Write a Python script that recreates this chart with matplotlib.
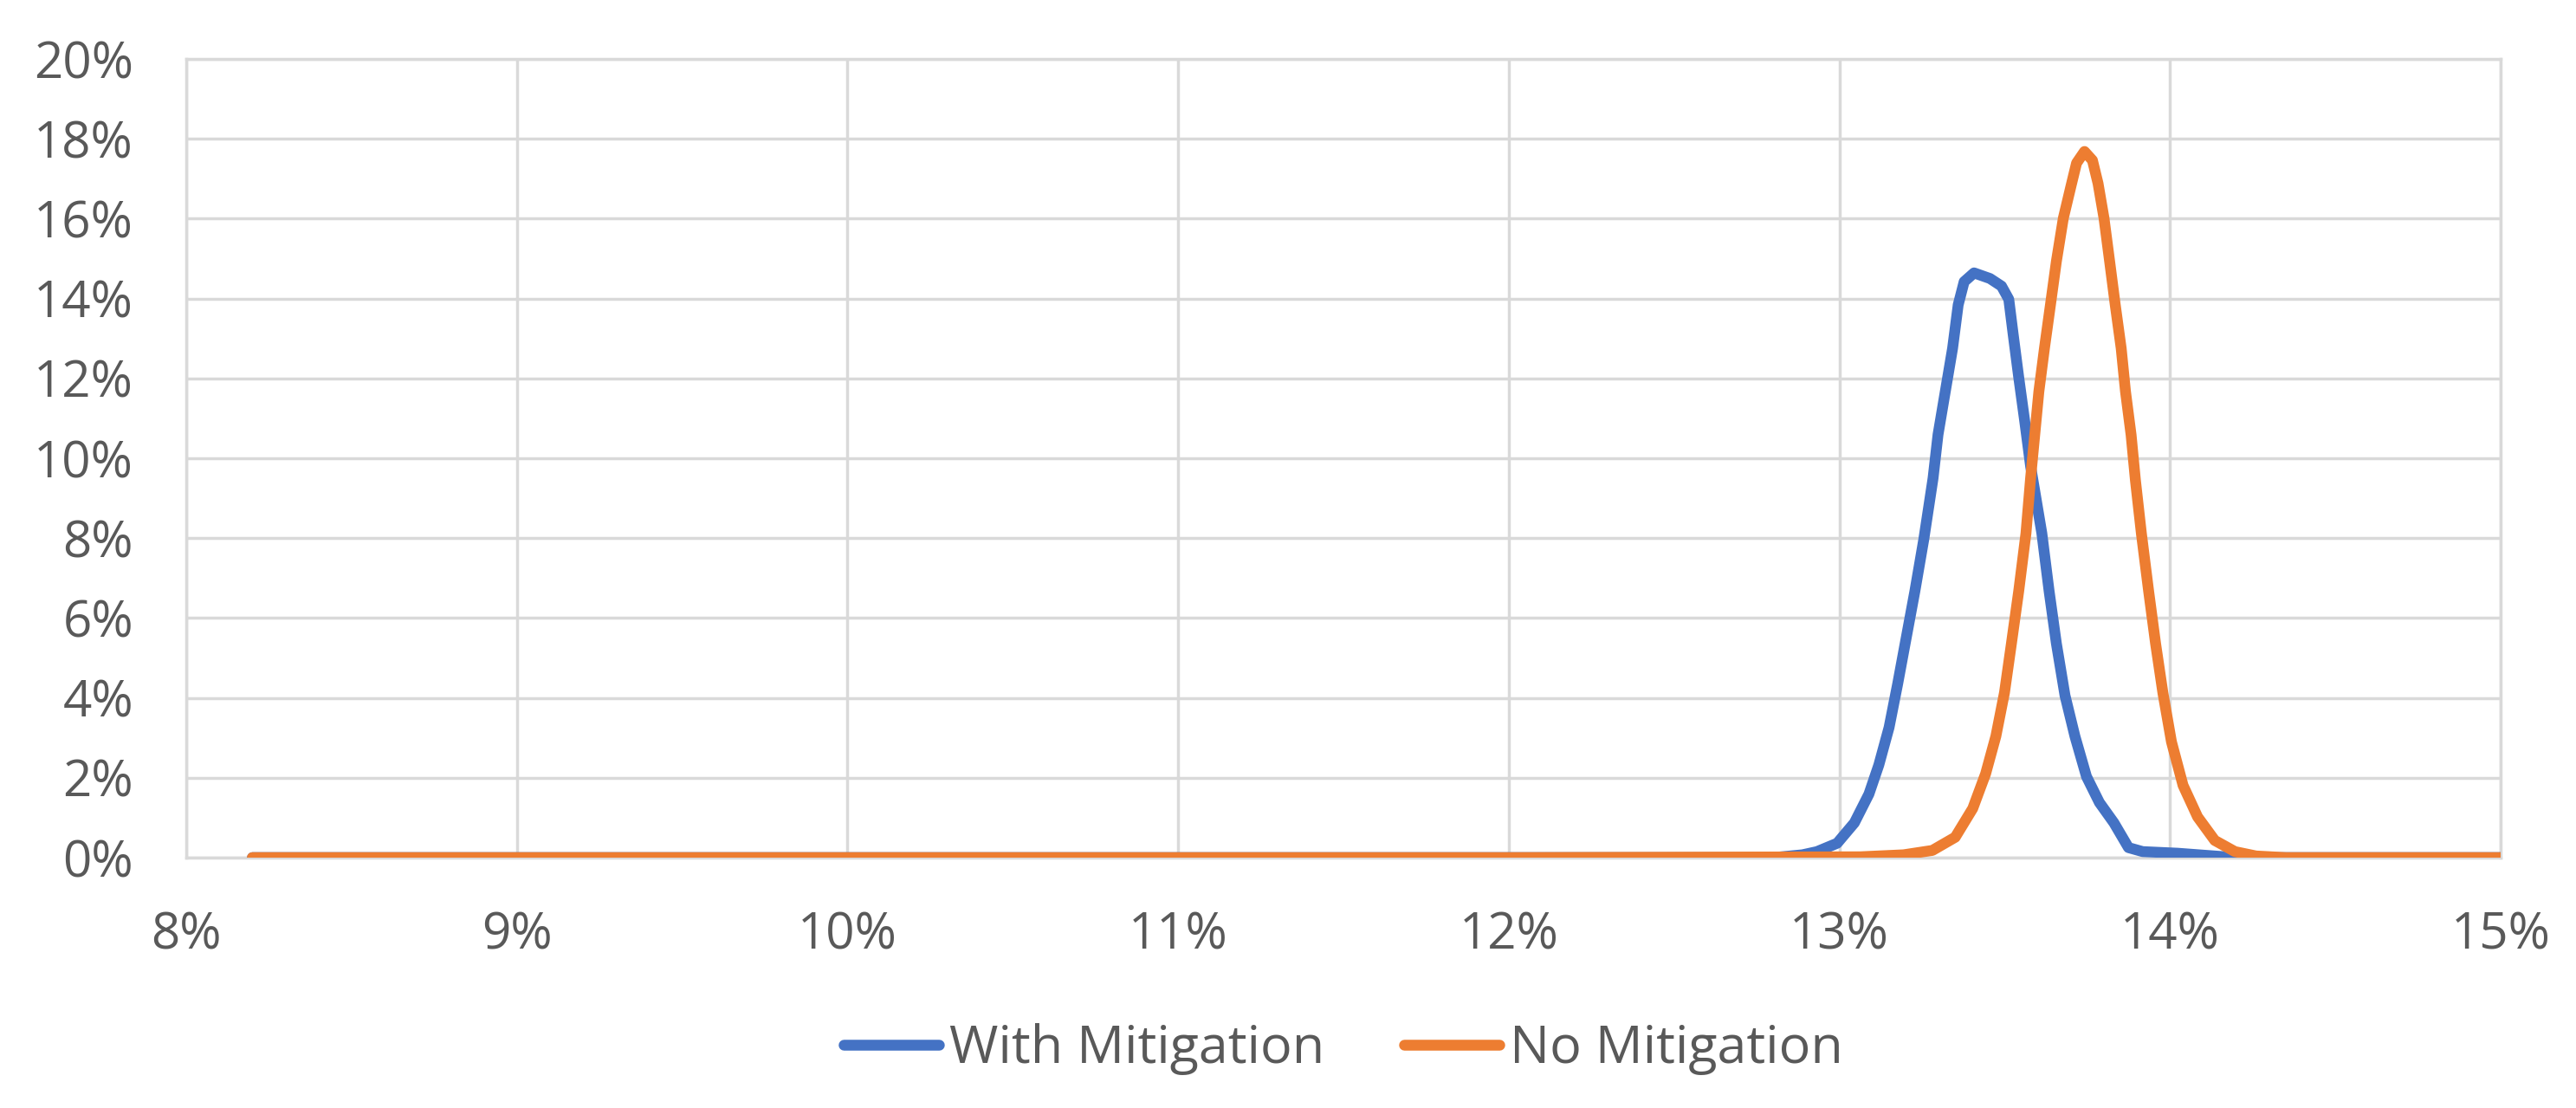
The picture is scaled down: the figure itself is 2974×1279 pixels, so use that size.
import matplotlib
matplotlib.use('Agg')
import matplotlib.pyplot as plt
from matplotlib.ticker import PercentFormatter, MultipleLocator

# rate (x, %) and probability (y, %)
with_x = [8.20, 10.00, 12.00, 12.80, 12.888, 12.932, 12.993, 13.045, 13.089, 13.119,
          13.15, 13.176, 13.202, 13.228, 13.255, 13.283, 13.298, 13.32, 13.342,
          13.359, 13.377, 13.407, 13.455, 13.49, 13.512, 13.525, 13.542, 13.56,
          13.578, 13.612, 13.634, 13.656, 13.682, 13.712, 13.747, 13.786,
          13.83, 13.874, 13.917, 14.022, 14.135, 14.20, 15.00]
with_y = [0.0, 0.0, 0.0, 0.0, 0.07, 0.15, 0.36, 0.87, 1.59, 2.32,
          3.26, 4.35, 5.51, 6.67, 7.97, 9.50, 10.59, 11.67, 12.75,
          13.84, 14.42, 14.64, 14.50, 14.31, 13.98, 13.12, 12.03, 10.94,
          9.80, 8.12, 6.67, 5.36, 4.06, 3.04, 2.03, 1.38,
          0.87, 0.25, 0.15, 0.11, 0.04, 0.0, 0.0]

no_x = [8.20, 10.00, 12.00, 13.063, 13.194, 13.281, 13.35, 13.403, 13.442, 13.473,
        13.499, 13.52, 13.542, 13.564, 13.578, 13.603, 13.62, 13.638, 13.656,
        13.677, 13.70, 13.717, 13.741, 13.765, 13.782, 13.80, 13.817, 13.834,
        13.852, 13.865, 13.882, 13.895, 13.913, 13.935, 13.956, 13.978, 14.004,
        14.039, 14.083, 14.135, 14.196, 14.26, 14.35, 15.00]
no_y = [0.0, 0.0, 0.0, 0.02, 0.07, 0.18, 0.51, 1.23, 2.10, 3.04,
        4.13, 5.36, 6.67, 8.12, 9.50, 11.67, 12.76, 13.84, 14.93,
        16.01, 16.81, 17.39, 17.68, 17.46, 16.88, 16.01, 14.93, 13.84,
        12.75, 11.67, 10.58, 9.45, 8.12, 6.67, 5.36, 4.13, 2.90,
        1.81, 1.02, 0.43, 0.15, 0.04, 0.0, 0.0]

labels = ['With Mitigation', 'No Mitigation']
colors = ['#4472C4', '#ED7D31']

plt.rcParams['font.family'] = ['Open Sans', 'DejaVu Sans']

fig = plt.figure(figsize=(29.74, 12.79), dpi=100)
ax = fig.add_axes([0.0723, 0.2260, 0.8985, 0.7209])

ax.plot(with_x, with_y, color=colors[0], lw=9, label=labels[0],
        solid_joinstyle='round', solid_capstyle='round', zorder=3)
ax.plot(no_x, no_y, color=colors[1], lw=9, label=labels[1],
        solid_joinstyle='round', solid_capstyle='round', zorder=4)

ax.set_xlim(8, 15)
ax.set_ylim(0, 20)
ax.xaxis.set_major_locator(MultipleLocator(1))
ax.yaxis.set_major_locator(MultipleLocator(2))
ax.xaxis.set_major_formatter(PercentFormatter(100, decimals=0))
ax.yaxis.set_major_formatter(PercentFormatter(100, decimals=0))

ax.grid(True, color='#d9d9d9', lw=2.5)
ax.set_axisbelow(True)
for s in ax.spines.values():
    s.set_color('#d9d9d9')
    s.set_linewidth(2.5)
ax.tick_params(length=0, labelsize=42, colors='#595959')
ax.tick_params(axis='y', pad=44)
ax.tick_params(axis='x', pad=44)

leg = ax.legend(loc='center', bbox_to_anchor=(0.5, -0.24), ncol=2, frameon=False,
                fontsize=44, handlelength=1.8, handletextpad=0.2, columnspacing=1.5)
for t in leg.get_texts():
    t.set_color('#595959')

fig.savefig('out.png', dpi=100, facecolor='white')
